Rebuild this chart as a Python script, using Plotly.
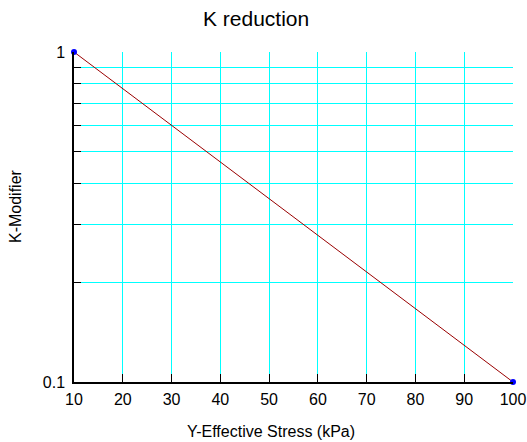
import plotly.graph_objects as go

x_vals = [10, 100]
y_vals = [1.0, 0.1]
x_ticks = [10, 20, 30, 40, 50, 60, 70, 80, 90, 100]
y_ticks = [0.1, 0.2, 0.3, 0.4, 0.5, 0.6, 0.7, 0.8, 0.9, 1.0]
y_ticktext = ["0.1", "", "", "", "", "", "", "", "", "1"]

fig = go.Figure()
fig.add_trace(go.Scatter(
    x=x_vals, y=y_vals, mode="lines",
    line=dict(color="#990000", width=1),
    showlegend=False, cliponaxis=False,
))
fig.add_trace(go.Scatter(
    x=x_vals, y=y_vals, mode="markers",
    marker=dict(color="#0000FF", size=6, symbol="circle"),
    showlegend=False, cliponaxis=False,
))

font = "Liberation Sans, Arial, sans-serif"
fig.update_layout(
    width=527, height=442,
    margin=dict(l=74, r=14, t=52, b=60, autoexpand=False),
    paper_bgcolor="white", plot_bgcolor="white",
    font=dict(family=font, size=16, color="black"),
    xaxis=dict(
        range=[10, 100], tickvals=x_ticks, ticks="inside", ticklen=8, tickcolor="black",
        showline=True, linecolor="black", linewidth=1.5,
        showgrid=True, gridcolor="#00FFFF", gridwidth=1.2, zeroline=False,
        tickfont=dict(size=16), ticklabelstandoff=2, automargin=False,
    ),
    yaxis=dict(
        type="log", range=[-1, 0], tickvals=y_ticks, ticktext=y_ticktext,
        ticks="inside", ticklen=7, tickcolor="black",
        showline=True, linecolor="black", linewidth=1.5,
        showgrid=True, gridcolor="#00FFFF", gridwidth=1.2, zeroline=False,
        tickfont=dict(size=16), ticklabelstandoff=4, automargin=False,
    ),
    annotations=[
        dict(text="K reduction", x=(256 - 74) / 439, y=(382 - 18) / 330, xref="paper", yref="paper",
             xanchor="center", yanchor="middle", showarrow=False,
             font=dict(family=font, size=21, color="black")),
        dict(text="Y-Effective Stress (kPa)", x=(270.5 - 74) / 439, y=-(431 - 382) / 330,
             xref="paper", yref="paper", xanchor="center", yanchor="middle", showarrow=False,
             font=dict(family=font, size=16, color="black")),
        dict(text="K-Modifier", x=-(74 - 15) / 439, y=(382 - 206) / 330,
             xref="paper", yref="paper", xanchor="center", yanchor="middle", showarrow=False,
             textangle=-90, font=dict(family=font, size=16, color="black")),
    ],
)
fig.write_html("out.html")
